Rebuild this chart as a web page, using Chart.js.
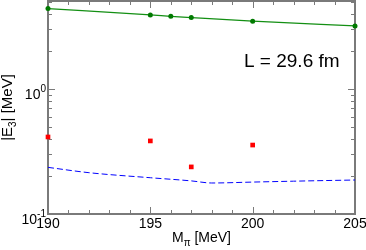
<!DOCTYPE html>
<html>
<head>
<meta charset="utf-8">
<script src="https://cdn.jsdelivr.net/npm/chart.js@4.4.0/dist/chart.umd.min.js"></script>
<style>
  html, body { margin: 0; padding: 0; background: #fff; }
  canvas { display: block; }
</style>
</head>
<body>
<canvas id="chart" width="366" height="250"></canvas>
<script>
// data
const greenX = [190, 195, 196, 197, 200, 205];
const greenY = [4.39, 3.91, 3.81, 3.72, 3.48, 3.19];
const redX = [190, 195, 197, 200];
const redY = [0.413, 0.384, 0.238, 0.356];
const blueX = [190, 192, 195, 197, 198, 200, 202, 205];
const blueY = [0.236, 0.214, 0.195, 0.184, 0.177, 0.180, 0.183, 0.187];

const xTicks = [190, 191, 192, 193, 194, 195, 196, 197, 198, 199, 200, 201, 202, 203, 204, 205];
const xMajor = [190, 195, 200, 205];
const yTicks = [0.1, 0.2, 0.3, 0.4, 0.5, 0.6, 0.7, 0.8, 0.9, 1, 2, 3, 4, 5];
const yMajor = [0.1, 1];
const yMajorLabels = [['10', '-1'], ['10', '0']];

const pts = (xs, ys) => xs.map((x, i) => ({ x: x, y: ys[i] }));
const FONT = 'Liberation Sans, Arial, Helvetica, sans-serif';
const FRAME = '#7a7a7a';

const noPad = s => { s.paddingLeft = 0; s.paddingRight = 0; s.paddingTop = 0; s.paddingBottom = 0; };

// frame + inward ticks on all four sides, labels with super/subscripts
const framePlugin = {
    id: 'frame',
    beforeDatasetsDraw(chart) {
        const { ctx, chartArea: a, scales: { x, y } } = chart;
        ctx.save();
        ctx.strokeStyle = FRAME;
        ctx.lineWidth = 1;
        ctx.beginPath();
        x.ticks.forEach(t => {
            const px = Math.round(x.getPixelForValue(t.value)) + 0.5;
            const len = xMajor.includes(t.value) ? 7 : 4;
            ctx.moveTo(px, a.bottom); ctx.lineTo(px, a.bottom - len);
            ctx.moveTo(px, a.top); ctx.lineTo(px, a.top + len);
        });
        y.ticks.forEach(t => {
            const py = Math.round(y.getPixelForValue(t.value)) + 0.5;
            const len = yMajor.includes(t.value) ? 7 : 4;
            ctx.moveTo(a.left, py); ctx.lineTo(a.left + len, py);
            ctx.moveTo(a.right, py); ctx.lineTo(a.right - len, py);
        });
        ctx.stroke();
        ctx.lineWidth = 2;
        ctx.strokeRect(a.left, a.top, a.right - a.left, a.bottom - a.top);
        ctx.restore();
    },
    afterDraw(chart) {
        const { ctx, chartArea: a, scales: { y } } = chart;
        ctx.save();
        ctx.fillStyle = '#000';
        ctx.textBaseline = 'alphabetic';

        // log labels 10^n
        yMajor.forEach((v, i) => {
            const py = y.getPixelForValue(v);
            const [base, exp] = yMajorLabels[i];
            ctx.textAlign = 'right';
            const right = a.left - 2;
            ctx.font = '10px ' + FONT;
            ctx.fillText(exp, right, py + 3);
            const ew = ctx.measureText(exp).width;
            ctx.font = '14px ' + FONT;
            ctx.fillText(base, right - ew, py + 10);
        });

        // x title  M_pi [MeV]
        ctx.textAlign = 'left';
        const m = 'M', rest = ' [MeV]';
        ctx.font = '10px ' + FONT;
        const piW = ctx.measureText('\u03c0').width;
        ctx.font = '14px ' + FONT;
        const mw = ctx.measureText(m).width;
        const total = mw + piW + ctx.measureText(rest).width;
        const sx = (a.left + a.right) / 2 - total / 2;
        ctx.fillText(m, sx, 242);
        ctx.font = '10px ' + FONT;
        ctx.fillText('\u03c0', sx + mw, 246);
        ctx.font = '14px ' + FONT;
        ctx.fillText(rest, sx + mw + piW, 242);

        // y title  |E_3| [MeV]
        ctx.translate(12, (a.top + a.bottom) / 2);
        ctx.rotate(-Math.PI / 2);
        ctx.font = '15px ' + FONT;
        const p1 = '|E', p3 = '| [MeV]';
        const w1 = ctx.measureText(p1).width;
        const w3 = ctx.measureText(p3).width;
        ctx.font = '10px ' + FONT;
        const w2 = ctx.measureText('3').width;
        const ty = -(w1 + w2 + w3) / 2;
        ctx.font = '15px ' + FONT;
        ctx.fillText(p1, ty, 0);
        ctx.font = '10px ' + FONT;
        ctx.fillText('3', ty + w1, 4);
        ctx.font = '15px ' + FONT;
        ctx.fillText(p3, ty + w1 + w2, 0);
        ctx.setTransform(1, 0, 0, 1, 0, 0);

        // annotation
        ctx.font = '19px ' + FONT;
        ctx.fillText('L = 29.6 fm', 244, 67);
        ctx.restore();
    }
};

new Chart(document.getElementById('chart'), {
    type: 'scatter',
    data: {
        datasets: [{
            data: pts(blueX, blueY),
            showLine: true,
            borderColor: '#0000ff',
            borderWidth: 1,
            borderDash: [6, 3],
            pointRadius: 0,
            cubicInterpolationMode: 'monotone'
        }, {
            data: pts(greenX, greenY),
            showLine: true,
            borderColor: '#138f13',
            borderWidth: 1.3,
            backgroundColor: '#007a00',
            pointRadius: 2.5,
            pointBorderWidth: 0,
            cubicInterpolationMode: 'monotone',
            clip: false
        }, {
            data: pts(redX, redY),
            showLine: false,
            pointStyle: 'rect',
            backgroundColor: '#ff0000',
            pointBorderWidth: 0,
            pointRadius: 3.3,
            clip: false
        }]
    },
    options: {
        responsive: false,
        devicePixelRatio: 1,
        animation: false,
        layout: { autoPadding: false, padding: { left: 0, right: 11, top: 1, bottom: 0 } },
        plugins: { legend: { display: false }, tooltip: { enabled: false } },
        scales: {
            x: {
                type: 'linear',
                min: 190,
                max: 205,
                afterBuildTicks: s => { s.ticks = xTicks.map(v => ({ value: v })); },
                afterFit: s => { s.height = 36; noPad(s); },
                grid: { display: false, drawTicks: false },
                border: { display: false },
                ticks: {
                    autoSkip: false,
                    maxRotation: 0,
                    padding: 2,
                    color: '#000',
                    font: { family: FONT, size: 14 },
                    callback: v => xMajor.includes(v) ? String(v) : ''
                }
            },
            y: {
                type: 'logarithmic',
                min: 0.1,
                max: 5.05,
                afterBuildTicks: s => { s.ticks = yTicks.map(v => ({ value: v })); },
                afterFit: s => { s.width = 48; noPad(s); },
                grid: { display: false, drawTicks: false },
                border: { display: false },
                ticks: { display: false }
            }
        }
    },
    plugins: [framePlugin]
});
</script>
</body>
</html>
